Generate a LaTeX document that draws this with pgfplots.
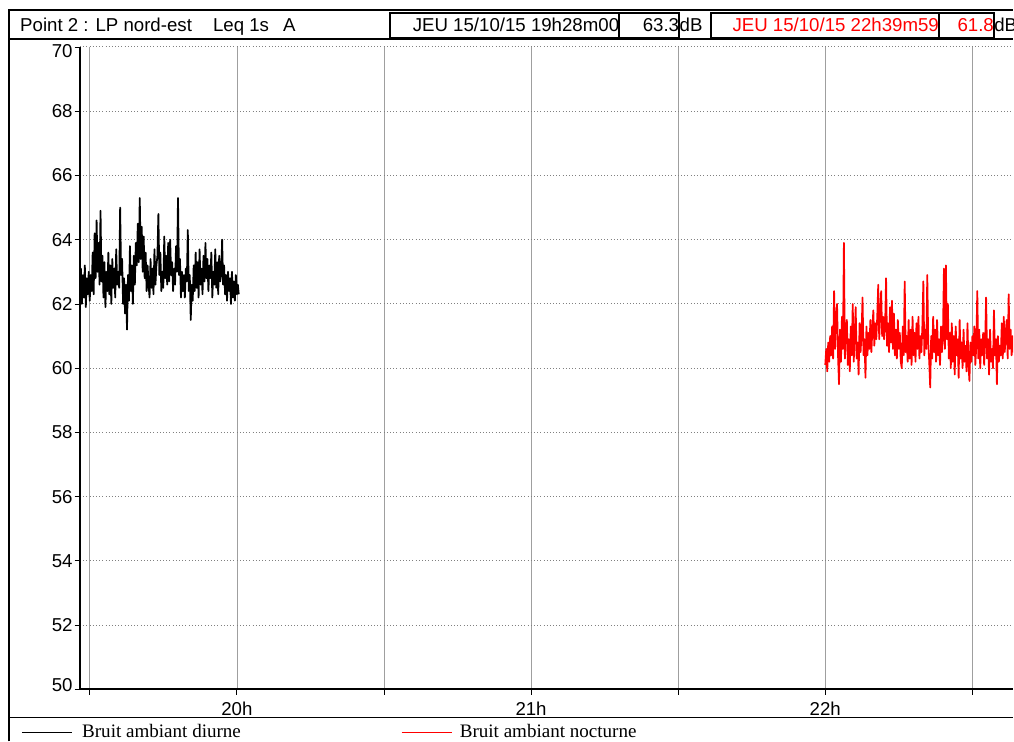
\documentclass[border=0pt]{standalone}
\usepackage{pgfplots}
\usepackage{pgfplotstable}
\pgfplotsset{compat=1.18}
\usepackage{fontspec}
\setmainfont{Liberation Sans}
\newfontfamily\legfont{Liberation Serif}

% Leq 1s, one value every 12 s (0.2 min)
\pgfplotstableread[row sep=\\]{
leq\\
62.4\\ 63.1\\ 62.0\\ 62.9\\ 62.2\\ 63.2\\ 61.9\\ 62.8\\ 62.3\\ 63.0\\
62.1\\ 62.9\\ 62.4\\ 63.6\\ 62.3\\ 64.2\\ 62.8\\ 64.6\\ 63.0\\ 63.9\\
62.6\\ 64.9\\ 62.7\\ 63.5\\ 62.2\\ 63.3\\ 61.9\\ 63.0\\ 62.4\\ 63.6\\
62.3\\ 63.2\\ 62.0\\ 63.4\\ 62.5\\ 63.1\\ 62.2\\ 63.7\\ 62.6\\ 63.0\\
62.5\\ 65.0\\ 62.9\\ 63.4\\ 62.0\\ 62.8\\ 61.7\\ 62.6\\ 61.2\\ 62.9\\
62.1\\ 63.8\\ 62.4\\ 63.2\\ 62.0\\ 63.5\\ 62.6\\ 63.9\\ 63.2\\ 64.5\\
63.3\\ 65.3\\ 63.4\\ 64.4\\ 63.0\\ 64.1\\ 62.8\\ 63.6\\ 62.4\\ 63.2\\
62.6\\ 62.2\\ 63.4\\ 62.5\\ 63.1\\ 62.3\\ 63.7\\ 62.6\\ 63.2\\ 63.5\\
64.8\\ 62.9\\ 63.6\\ 62.4\\ 63.0\\ 62.5\\ 64.1\\ 62.8\\ 63.5\\ 62.6\\
63.9\\ 62.7\\ 64.0\\ 62.9\\ 63.3\\ 62.4\\ 63.1\\ 62.6\\ 63.8\\ 63.0\\
65.3\\ 62.9\\ 63.4\\ 62.2\\ 63.0\\ 62.4\\ 62.9\\ 62.2\\ 63.1\\ 62.7\\
64.3\\ 62.4\\ 62.9\\ 61.5\\ 62.6\\ 62.1\\ 63.2\\ 62.4\\ 63.6\\ 62.5\\
63.3\\ 62.2\\ 63.7\\ 62.6\\ 63.1\\ 62.3\\ 63.5\\ 62.7\\ 63.9\\ 62.8\\
63.4\\ 62.4\\ 63.2\\ 62.8\\ 63.6\\ 62.2\\ 63.0\\ 62.6\\ 63.7\\ 62.5\\
63.3\\ 62.3\\ 63.5\\ 62.7\\ 62.9\\ 64.0\\ 62.6\\ 63.2\\ 62.3\\ 62.9\\
62.1\\ 63.0\\ 62.4\\ 62.8\\ 62.0\\ 63.0\\ 62.2\\ 62.7\\ 62.1\\ 62.9\\
62.3\\ 62.6\\ 62.3\\
}\diurne

\pgfplotstableread[row sep=\\]{
leq\\
60.1\\ 60.6\\ 59.9\\ 60.8\\ 60.2\\ 61.0\\ 60.4\\ 61.3\\ 60.3\\ 62.4\\
60.6\\ 61.5\\ 62.0\\ 60.4\\ 59.5\\ 61.2\\ 60.2\\ 61.6\\ 60.6\\ 63.9\\
60.3\\ 61.2\\ 61.5\\ 60.1\\ 60.9\\ 59.9\\ 61.3\\ 60.4\\ 62.0\\ 60.2\\
61.0\\ 61.9\\ 60.3\\ 60.8\\ 59.8\\ 61.4\\ 60.5\\ 61.1\\ 62.2\\ 60.4\\
60.9\\ 59.7\\ 61.3\\ 60.4\\ 61.1\\ 60.6\\ 61.5\\ 60.5\\ 61.2\\ 61.8\\
60.7\\ 61.4\\ 60.9\\ 61.6\\ 62.6\\ 60.9\\ 61.7\\ 62.4\\ 61.0\\ 61.6\\
60.9\\ 61.3\\ 62.8\\ 60.7\\ 61.4\\ 60.5\\ 61.9\\ 60.8\\ 62.1\\ 60.6\\
61.7\\ 60.4\\ 61.2\\ 60.3\\ 61.5\\ 60.6\\ 61.1\\ 60.2\\ 60.0\\ 61.3\\
60.4\\ 62.7\\ 60.5\\ 61.0\\ 60.2\\ 61.5\\ 60.3\\ 61.2\\ 60.1\\ 61.6\\
60.4\\ 61.1\\ 60.2\\ 61.4\\ 60.6\\ 61.6\\ 60.3\\ 61.0\\ 60.5\\ 61.3\\
62.7\\ 60.4\\ 61.2\\ 60.6\\ 62.9\\ 60.8\\ 60.2\\ 59.4\\ 61.0\\ 60.3\\
61.6\\ 60.5\\ 61.2\\ 60.2\\ 61.5\\ 60.4\\ 60.9\\ 60.1\\ 61.3\\ 60.5\\
61.0\\ 63.1\\ 60.6\\ 63.2\\ 60.9\\ 62.0\\ 60.3\\ 61.1\\ 60.0\\ 61.4\\
60.2\\ 61.0\\ 59.8\\ 61.3\\ 60.4\\ 60.9\\ 59.7\\ 61.5\\ 60.3\\ 60.8\\
60.0\\ 61.2\\ 60.2\\ 60.7\\ 59.9\\ 61.4\\ 60.1\\ 59.6\\ 60.8\\ 60.2\\
61.0\\ 60.4\\ 61.3\\ 60.1\\ 60.7\\ 62.4\\ 60.3\\ 61.2\\ 60.0\\ 60.9\\
60.4\\ 61.1\\ 60.1\\ 60.8\\ 62.2\\ 60.3\\ 60.9\\ 59.8\\ 61.2\\ 60.2\\
60.6\\ 60.0\\ 61.8\\ 60.4\\ 60.9\\ 59.5\\ 61.0\\ 60.2\\ 60.7\\ 60.4\\
61.4\\ 60.3\\ 61.6\\ 60.5\\ 61.1\\ 61.5\\ 60.3\\ 62.3\\ 60.6\\ 61.2\\
60.4\\ 61.0\\ 60.5\\ 61.3\\ 60.2\\ 60.9\\ 60.4\\ 61.1\\ 60.6\\ 60.8\\
}\nocturne

\begin{document}
\begin{tikzpicture}
\begin{scope}[x=0.75pt,y=-0.75pt]
  \useasboundingbox (0,0) rectangle (1014,742);
  \coordinate (O) at (80,690);
  % cadre
  \draw[line width=1.5pt] (9,742) -- (9,10) -- (1014,10);
  \draw[line width=1.2pt] (9,39) -- (1014,39);
  \draw[line width=1pt] (9,718) -- (1014,718);
  % en-tete
  \begin{scope}[font=\fontsize{14}{16}\selectfont]
    \node[anchor=base west,inner sep=0] at (20,32) {Point 2 : LP nord-est};
    \node[anchor=base west,inner sep=0] at (213,32) {Leq 1s};
    \node[anchor=base west,inner sep=0] at (283,32) {A};
    \draw[line width=1.5pt] (390,13) rectangle (620,38);
    \draw[line width=1.5pt] (620,13) rectangle (680,38);
    \draw[line width=1.5pt] (712,13) rectangle (940,38);
    \draw[line width=1.5pt] (940,13) rectangle (995,38);
    \node[anchor=base east,inner sep=0] at (620,32) {JEU 15/10/15 19h28m00};
    \node[anchor=base east,inner sep=0] at (680,32) {63.3};
    \node[anchor=base west,inner sep=0] at (680,32) {dB};
    \node[anchor=base east,inner sep=0,text=red] at (940,32) {JEU 15/10/15 22h39m59};
    \node[anchor=base east,inner sep=0,text=red] at (995,32) {61.8};
    \node[anchor=base west,inner sep=0] at (995,32) {dB};
  \end{scope}
  % legende
  \draw[draw=black,line width=1.2pt] (22,733) -- (72,733);
  \draw[draw=red,line width=1.2pt] (402,733) -- (452,733);
  \begin{scope}[font=\legfont\fontsize{14.3}{16}\selectfont]
    \node[anchor=base west,inner sep=0] at (82,738) {Bruit ambiant diurne};
    \node[anchor=base west,inner sep=0] at (460,738) {Bruit ambiant nocturne};
  \end{scope}
\end{scope}

\begin{axis}[
  at={(O)}, anchor=south west,
  scale only axis,
  width=700.5pt, height=482.25pt,
  xmin=28, xmax=218.3, ymin=50, ymax=70,
  axis x line*=bottom, axis y line*=left,
  axis line style={-, line width=1.4pt},
  xtick={60,120,180}, xticklabels={20h,21h,22h},
  minor xtick={30,90,150,210},
  ytick={50,52,...,70},
  yticklabels={\raisebox{6pt}{50},52,54,56,58,60,62,64,66,68,\raisebox{-8pt}[0pt][0pt]{70}},
  tick align=outside,
  major tick length=4pt, minor tick length=4pt,
  tick style={black, line width=0.6pt},
  xmajorgrids, xminorgrids, ymajorgrids,
  x grid style={gray!75, line width=0.5pt},
  minor x grid style={gray!75, line width=0.5pt},
  y grid style={gray, dotted, line width=0.7pt},
  tick label style={font=\fontsize{14}{16}\selectfont},
  /pgf/number format/assume math mode=true,
  yticklabel style={xshift=2pt},
  xticklabel style={yshift=-2pt},
  clip=true,
]
\addplot[black, line width=1.3pt, line join=round] table[x expr=28+0.2*\coordindex, y=leq] {\diurne};
\addplot[red, line width=1.3pt, line join=round] table[x expr=180+0.2*\coordindex, y=leq] {\nocturne};
\end{axis}
\end{tikzpicture}
\end{document}
